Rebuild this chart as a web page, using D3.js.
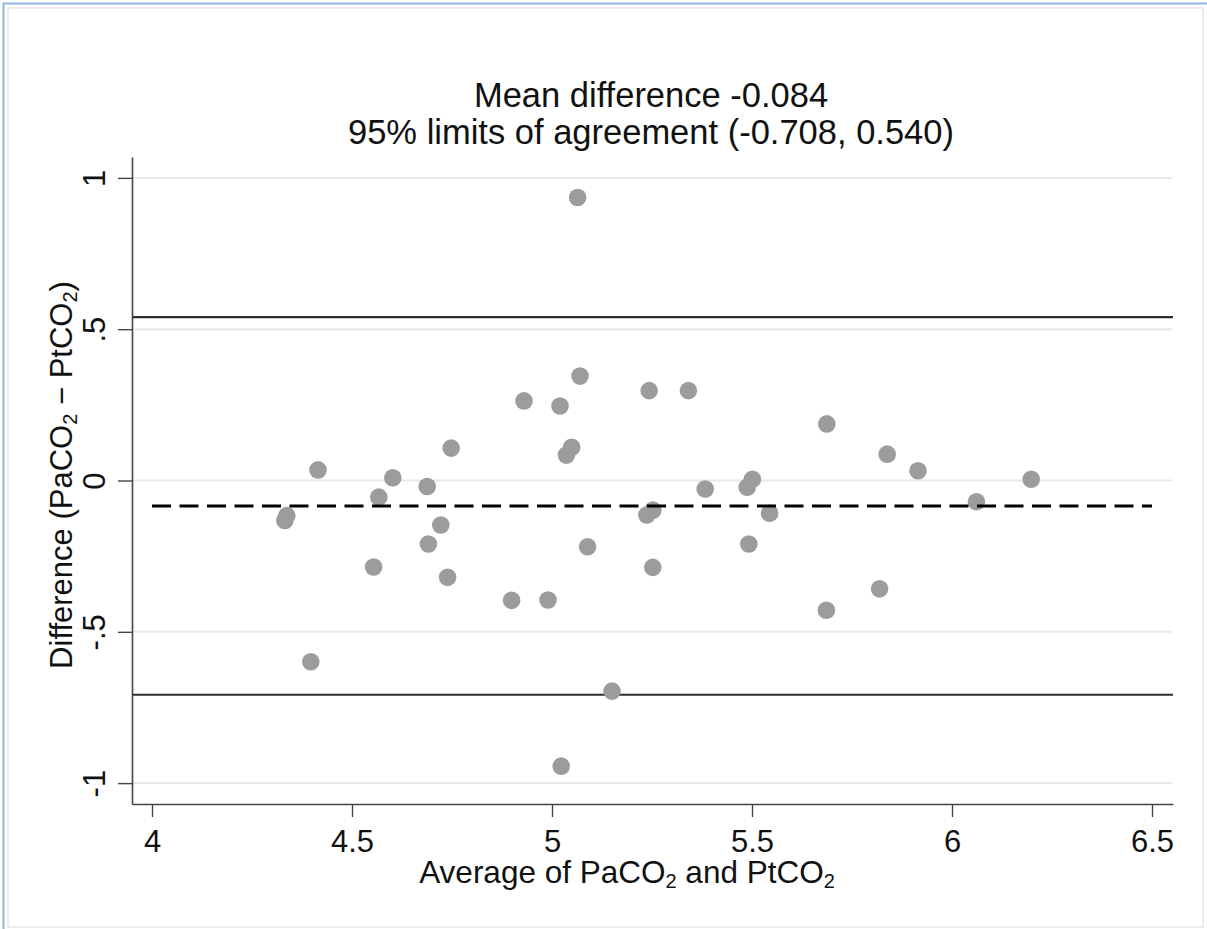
<!DOCTYPE html>
<html>
<head>
<meta charset="utf-8">
<script src="https://cdn.jsdelivr.net/npm/d3@7"></script>
<style>
  body { margin: 0; background: #fff; }
  svg { display: block; font-family: "Liberation Sans", Arial, sans-serif; }
</style>
</head>
<body>
<svg id="chart" width="1207" height="929"></svg>
<script>
// Bland-Altman data: x = average, y = difference
var avgVals = [4.337, 4.332, 4.397, 4.415, 4.554, 4.567, 4.602, 4.688, 4.691, 4.722,
               4.739, 4.748, 4.899, 4.930, 4.990, 5.020, 5.023, 5.036, 5.049, 5.064,
               5.070, 5.089, 5.150, 5.237, 5.252, 5.243, 5.252, 5.341, 5.383, 5.488,
               5.501, 5.492, 5.544, 5.686, 5.687, 5.819, 5.838, 5.915, 6.061, 6.198];
var diffVals = [-0.116, -0.132, -0.599, 0.035, -0.286, -0.055, 0.009, -0.020, -0.210, -0.147,
                -0.320, 0.107, -0.396, 0.263, -0.395, 0.246, -0.944, 0.084, 0.110, 0.935,
                0.345, -0.219, -0.696, -0.114, -0.098, 0.297, -0.287, 0.297, -0.028, -0.022,
                0.004, -0.210, -0.108, -0.429, 0.187, -0.358, 0.087, 0.032, -0.070, 0.004];
var meanDiff = -0.084;
var limits = [-0.708, 0.540];
var xTicks = [4, 4.5, 5, 5.5, 6, 6.5];
var yTicks = [-1, -0.5, 0, 0.5, 1];

(function() {

var svg = d3.select("#chart");

// frame
svg.append("rect")
    .attr("x", 8).attr("y", 8)
    .attr("width", 1195).attr("height", 919)
    .attr("fill", "none")
    .attr("stroke", "#ececec")
    .attr("stroke-width", 2);
svg.append("path")
    .attr("d", "M3.5,929V3.5H1207")
    .attr("fill", "none")
    .attr("stroke", "#8fb8e2")
    .attr("stroke-width", 2);

var plot = {left: 132, right: 1173, top: 157, bottom: 804};

var x = d3.scaleLinear().domain([3.95, 6.5525]).range([plot.left, plot.right]);
var y = d3.scaleLinear().domain([-1.069, 1.069]).range([plot.bottom, plot.top]);

// grid
svg.append("g")
    .selectAll("line")
    .data(yTicks)
  .enter().append("line")
    .attr("x1", plot.left).attr("x2", plot.right - 1)
    .attr("y1", function(d) { return y(d); })
    .attr("y2", function(d) { return y(d); })
    .attr("stroke", "#e8e8e8")
    .attr("stroke-width", 2);

// limits of agreement
svg.append("g")
    .selectAll("line")
    .data(limits)
  .enter().append("line")
    .attr("x1", plot.left).attr("x2", plot.right)
    .attr("y1", function(d) { return y(d); })
    .attr("y2", function(d) { return y(d); })
    .attr("stroke", "#2e2e2e")
    .attr("stroke-width", 2.2);

// points
svg.append("g")
    .selectAll("circle")
    .data(avgVals)
  .enter().append("circle")
    .attr("cx", function(d) { return x(d); })
    .attr("cy", function(d, i) { return y(diffVals[i]); })
    .attr("r", 8.8)
    .attr("fill", "#9c9c9c");

// mean line
svg.append("line")
    .attr("x1", x(4)).attr("x2", x(6.5))
    .attr("y1", y(meanDiff)).attr("y2", y(meanDiff))
    .attr("stroke", "#000")
    .attr("stroke-width", 3)
    .attr("stroke-dasharray", "19,8.5");

// axes (Stata style: hyphen minus, no leading zero)
var fmt = function(d) { return String(d).replace(/^(-?)0\./, "$1."); };

var xAxis = svg.append("g")
    .attr("transform", "translate(0," + plot.bottom + ")")
    .call(d3.axisBottom(x).tickValues(xTicks).tickSize(13).tickSizeOuter(0)
      .tickFormat(function(d) { return String(d); }));
xAxis.selectAll("text")
    .attr("y", 48).attr("dy", 0)
    .attr("font-size", 31).attr("fill", "#111");

var yAxis = svg.append("g")
    .attr("transform", "translate(" + plot.left + ",0)")
    .call(d3.axisLeft(y).tickValues(yTicks).tickSize(14).tickSizeOuter(0).tickFormat(fmt));
yAxis.selectAll("text")
    .attr("x", 0).attr("y", 0).attr("dy", 0)
    .attr("text-anchor", "middle")
    .attr("transform", "translate(-27,0) rotate(-90)")
    .attr("font-size", 31).attr("fill", "#111");

[xAxis, yAxis].forEach(function(a) {
  a.select(".domain").attr("stroke", "#444").attr("stroke-width", 1.6);
  a.selectAll(".tick line").attr("stroke", "#444").attr("stroke-width", 1.4);
});

// title
var title = svg.append("text")
    .attr("text-anchor", "middle")
    .attr("font-size", 34.5)
    .attr("fill", "#111");
title.append("tspan").attr("x", 651).attr("y", 107).text("Mean difference -0.084");
title.append("tspan").attr("x", 651).attr("y", 144).text("95% limits of agreement (-0.708, 0.540)");

// axis titles with subscripts
function subLabel(sel, parts) {
  parts.forEach(function(p) {
    var t = sel.append("tspan").text(p[0]);
    if (p[1]) t.attr("font-size", 20).attr("baseline-shift", "-26%");
  });
}

var xt = svg.append("text")
    .attr("x", 627).attr("y", 883)
    .attr("text-anchor", "middle")
    .attr("font-size", 31.5).attr("fill", "#111");
subLabel(xt, [["Average of PaCO"], ["2", true], [" and PtCO"], ["2", true]]);

var yt = svg.append("text")
    .attr("transform", "translate(72,475) rotate(-90)")
    .attr("text-anchor", "middle")
    .attr("font-size", 31).attr("fill", "#111");
subLabel(yt, [["Difference (PaCO"], ["2", true], [" \u2212 PtCO"], ["2", true], [")"]]);

})();
</script>
</body>
</html>
